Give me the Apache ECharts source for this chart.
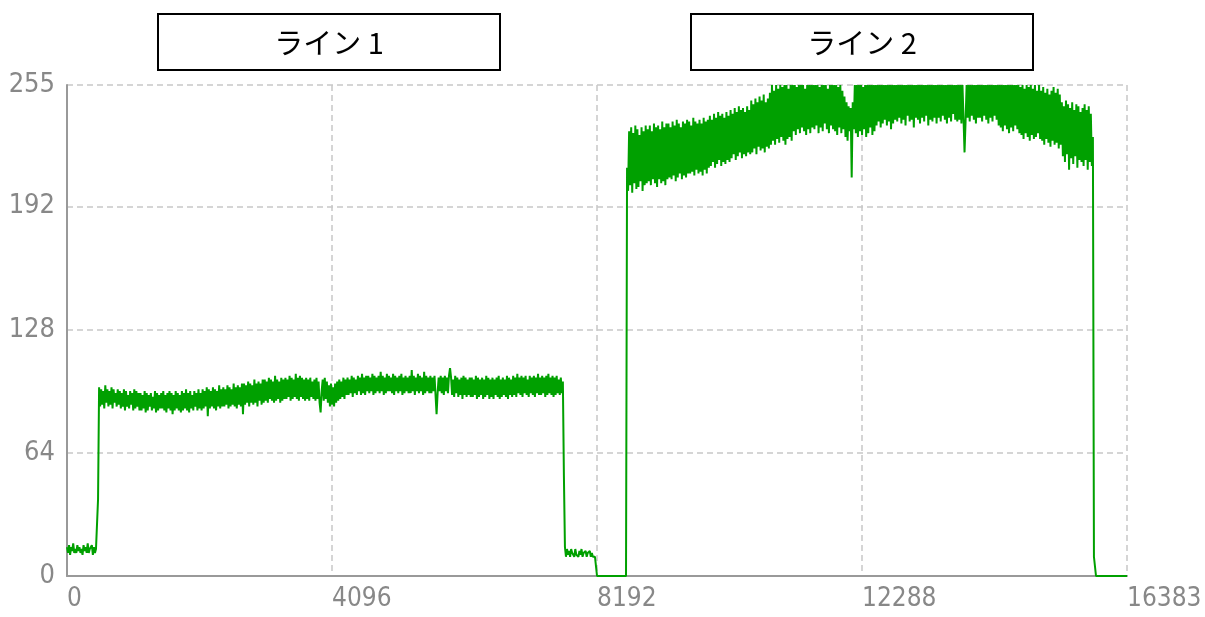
<!DOCTYPE html>
<html>
<head>
<meta charset="utf-8">
<title>ライン</title>
<script src="https://cdn.jsdelivr.net/npm/echarts@6/dist/echarts.min.js"></script>
<style>
  html, body { margin: 0; padding: 0; background: #fff; }
  #chart { width: 1205px; height: 617px; }
</style>
</head>
<body>
<div id="chart"></div>
<script>
// Data
const panelTitles = ["ライン 1", "ライン 2"];
const xTicks = [0, 4096, 8192, 12288, 16383];
const yTicks = [0, 64, 128, 192, 255];
const sampleStep = 16;

// ライン 1 : samples 0 .. 8176
const line1Samples = [
  15, 12, 16, 11, 15, 13, 17, 12, 14, 12, 16, 13, 15, 12, 14, 11, 16, 13, 15, 12, 17, 12, 14, 13, 16, 11, 15, 12, 14, 13,
  40,
  98, 88, 97, 89, 96, 87, 99, 90, 97, 88, 96, 89, 98, 87, 97, 90, 95, 88, 97, 89,
  96, 87, 95, 88, 97, 86, 96, 88, 94, 87, 96, 89, 95, 86, 97, 87, 96, 88, 95, 86,
  95, 86, 94, 87, 96, 85, 95, 86, 94, 88, 95, 86, 93, 87, 96, 85, 95, 86, 94, 87,
  95, 87, 96, 86, 94, 85, 95, 87, 96, 86, 95, 84, 94, 86, 96, 87, 95, 86, 94, 85,
  96, 86, 95, 87, 97, 86, 95, 85, 96, 87, 94, 86, 96, 88, 95, 86, 97, 87, 95, 86,
  97, 87, 96, 88, 98, 83, 97, 87, 96, 88, 98, 87, 97, 86, 96, 88, 99, 87, 97, 88,
  98, 88, 97, 89, 99, 87, 98, 88, 97, 89, 100, 88, 98, 87, 99, 89, 98, 88, 100, 84,
  100, 89, 99, 90, 101, 88, 100, 90, 99, 89, 102, 90, 100, 88, 101, 91, 100, 89, 102, 90,
  102, 91, 101, 90, 103, 92, 102, 91, 101, 90, 104, 91, 102, 92, 101, 90, 103, 91, 102, 92,
  103, 92, 102, 93, 104, 91, 103, 92, 102, 93, 105, 92, 103, 91, 104, 93, 103, 92, 102, 91,
  103, 92, 102, 91, 103, 93, 101, 92, 102, 91, 103, 92, 101, 90, 85, 96, 102, 91, 103, 92,
  101, 90, 99, 88, 100, 89, 98, 88, 100, 90, 101, 91, 102, 92, 101, 93, 103, 92, 102, 94,
  103, 94, 102, 95, 104, 93, 103, 95, 102, 94, 104, 96, 103, 94, 105, 95, 103, 94, 104, 96,
  104, 95, 103, 96, 105, 94, 104, 95, 103, 96, 104, 95, 106, 96, 104, 94, 103, 95, 105, 96,
  104, 96, 103, 95, 105, 94, 104, 96, 103, 95, 104, 96, 105, 94, 103, 95, 104, 96, 103, 95,
  104, 95, 107, 96, 104, 94, 103, 96, 105, 95, 104, 96, 103, 94, 106, 95, 104, 96, 103, 95,
  104, 95, 103, 96, 104, 94, 84, 95, 103, 96, 104, 95, 103, 94, 104, 96, 103, 95, 104, 108,
  103, 94, 102, 93, 104, 95, 103, 93, 102, 94, 103, 92, 104, 94, 103, 93, 102, 94, 103, 93,
  103, 93, 102, 94, 104, 92, 103, 93, 102, 94, 103, 92, 102, 93, 104, 94, 103, 92, 102, 93,
  103, 92, 102, 94, 103, 93, 104, 92, 102, 93, 103, 94, 102, 93, 104, 92, 103, 94, 102, 93,
  104, 94, 103, 93, 105, 95, 103, 94, 104, 93, 103, 95, 104, 94, 102, 93, 104, 95, 103, 94,
  104, 93, 103, 95, 105, 94, 103, 94, 104, 95, 103, 93, 104, 94, 105, 95, 103, 94, 104, 93,
  103, 94, 104, 95, 102, 94, 103, 95, 101,
  52,
  15, 10, 14, 11, 13, 10, 14, 12, 13, 10, 14, 11, 12, 10, 13, 11, 14, 10, 12, 11, 13, 10, 12, 11, 13, 10, 12, 10, 11, 10,
  9
];

// ライン 2 : samples 8192 .. 16368
const line2Samples = [
  0, 0, 0, 0, 0, 0, 0, 0, 0, 0, 0, 0, 0, 0, 0, 0, 0, 0, 0, 0, 0, 0, 0, 0, 0, 0, 0, 0, 0,
  212, 200, 231, 203, 233, 199, 230, 204, 234, 201, 232, 202, 229, 205, 233, 200, 231, 203, 234, 204,
  232, 205, 234, 203, 231, 206, 235, 204, 233, 202, 234, 206, 232, 204, 236, 205, 233, 203, 235, 206,
  235, 207, 233, 206, 236, 208, 234, 205, 237, 207, 235, 209, 233, 206, 236, 208, 235, 207, 237, 209,
  236, 209, 234, 210, 238, 208, 236, 211, 235, 209, 237, 210, 235, 208, 238, 211, 236, 209, 237, 212,
  239, 213, 237, 215, 240, 212, 238, 214, 241, 216, 239, 213, 240, 215, 238, 214, 241, 216, 239, 215,
  242, 217, 240, 219, 243, 216, 241, 218, 244, 220, 242, 217, 243, 219, 241, 218, 244, 220, 242, 219,
  247, 220, 245, 222, 248, 219, 246, 223, 249, 221, 247, 222, 250, 220, 246, 223, 248, 222, 251, 224,
  255, 226, 252, 224, 255, 227, 253, 225, 255, 228, 254, 226, 255, 224, 255, 227, 253, 228, 255, 226,
  255, 231, 255, 229, 254, 232, 255, 230, 255, 233, 255, 231, 253, 229, 255, 232, 255, 230, 255, 233,
  255, 232, 255, 234, 255, 230, 254, 233, 255, 231, 255, 235, 255, 232, 253, 230, 255, 234, 255, 232,
  255, 231, 255, 229, 254, 233, 255, 230, 252, 232, 249, 228, 246, 226, 244, 231, 243, 207, 246, 232,
  255, 230, 255, 228, 255, 231, 255, 229, 254, 232, 255, 228, 255, 230, 255, 233, 255, 229, 255, 231,
  255, 234, 255, 236, 255, 233, 255, 235, 255, 237, 255, 234, 255, 236, 255, 232, 255, 235, 255, 237,
  255, 236, 255, 238, 255, 235, 255, 237, 255, 234, 255, 239, 255, 236, 255, 237, 255, 233, 255, 238,
  255, 237, 255, 235, 255, 238, 255, 236, 255, 239, 255, 234, 255, 237, 255, 236, 255, 238, 255, 235,
  255, 238, 255, 236, 255, 239, 255, 237, 255, 235, 255, 238, 255, 236, 255, 240, 255, 237, 255, 236,
  255, 237, 255, 235, 255, 238, 220, 236, 255, 238, 255, 236, 255, 239, 255, 237, 255, 235, 255, 238,
  255, 238, 255, 236, 255, 239, 255, 237, 255, 235, 255, 238, 255, 236, 255, 239, 255, 237, 255, 234,
  255, 233, 255, 231, 255, 234, 255, 232, 255, 230, 255, 233, 255, 231, 255, 234, 255, 232, 255, 230,
  254, 229, 255, 227, 253, 230, 255, 228, 254, 226, 255, 229, 253, 227, 255, 228, 252, 230, 255, 227,
  252, 226, 254, 224, 251, 227, 253, 225, 250, 223, 252, 226, 254, 224, 251, 225, 253, 222, 250, 224,
  246, 218, 244, 215, 247, 219, 245, 211, 243, 217, 246, 214, 242, 218, 245, 212, 244, 216, 241, 215,
  243, 213, 245, 216, 242, 211, 244, 215, 240, 213, 228,
  10, 10,
  0, 0, 0, 0, 0, 0, 0, 0, 0, 0, 0, 0, 0, 0, 0, 0, 0, 0, 0, 0, 0, 0, 0, 0, 0, 0, 0, 0, 0, 0
];
const lastSample = 0; // value at 16383

const line1Start = xTicks[0];
const line2Start = xTicks[2];

const seriesData = []
  .concat(line1Samples.map((v, i) => [line1Start + i * sampleStep, v]))
  .concat(line2Samples.map((v, i) => [line2Start + i * sampleStep, v]))
  .concat([[xTicks[xTicks.length - 1], lastSample]]);

const labelFont = "'Liberation Sans Narrow', 'DejaVu Sans Condensed', 'Noto Sans', sans-serif";
const titleFont = "'Noto Sans CJK JP', sans-serif";

const makeTitleBox = (cx, text) => ({
  type: "group",
  left: cx - 172,
  top: 13,
  children: [
    {
      type: "rect",
      shape: { x: 1, y: 1, width: 342, height: 56 },
      style: { fill: "#fff", stroke: "#000", lineWidth: 2 },
    },
    {
      type: "text",
      x: 172,
      y: 30,
      style: {
        text: text,
        fill: "#000",
        font: "29px " + titleFont,
        align: "center",
        verticalAlign: "middle",
      },
    },
  ],
});

const chart = echarts.init(document.getElementById("chart"));
chart.setOption({
  animation: false,
  backgroundColor: "#fff",
  grid: {
    left: 67,
    top: 85,
    right: 78,
    bottom: 41,
    containLabel: false,
    outerBoundsMode: "none",
  },
  xAxis: {
    type: "value",
    min: xTicks[0],
    max: xTicks[xTicks.length - 1],
    interval: xTicks[1] - xTicks[0],
    axisLine: { show: true, onZero: false, lineStyle: { color: "#999", width: 2 } },
    axisTick: { show: false },
    axisLabel: {
      color: "#888",
      fontFamily: labelFont,
      fontSize: 26,
      align: "left",
      margin: 10,
      showMaxLabel: true,
      formatter: (v) => String(v),
    },
    splitLine: { show: true, lineStyle: { color: "#c8c8c8", width: 1.5, type: [6, 4] } },
  },
  yAxis: {
    type: "value",
    min: yTicks[0],
    max: yTicks[yTicks.length - 1],
    interval: yTicks[1] - yTicks[0],
    axisLine: { show: true, lineStyle: { color: "#999", width: 2 } },
    axisTick: { show: false },
    axisLabel: {
      color: "#888",
      fontFamily: labelFont,
      fontSize: 27,
      margin: 12,
      showMaxLabel: true,
      formatter: (v) => String(v),
    },
    splitLine: { show: true, lineStyle: { color: "#c8c8c8", width: 1.5, type: [6, 4] } },
  },
  series: [
    {
      type: "line",
      data: seriesData,
      showSymbol: false,
      symbol: "none",
      sampling: null,
      lineStyle: { color: "#00a000", width: 2 },
      emphasis: { disabled: true },
    },
  ],
  graphic: [makeTitleBox(329, panelTitles[0]), makeTitleBox(862, panelTitles[1])],
});
</script>
</body>
</html>
